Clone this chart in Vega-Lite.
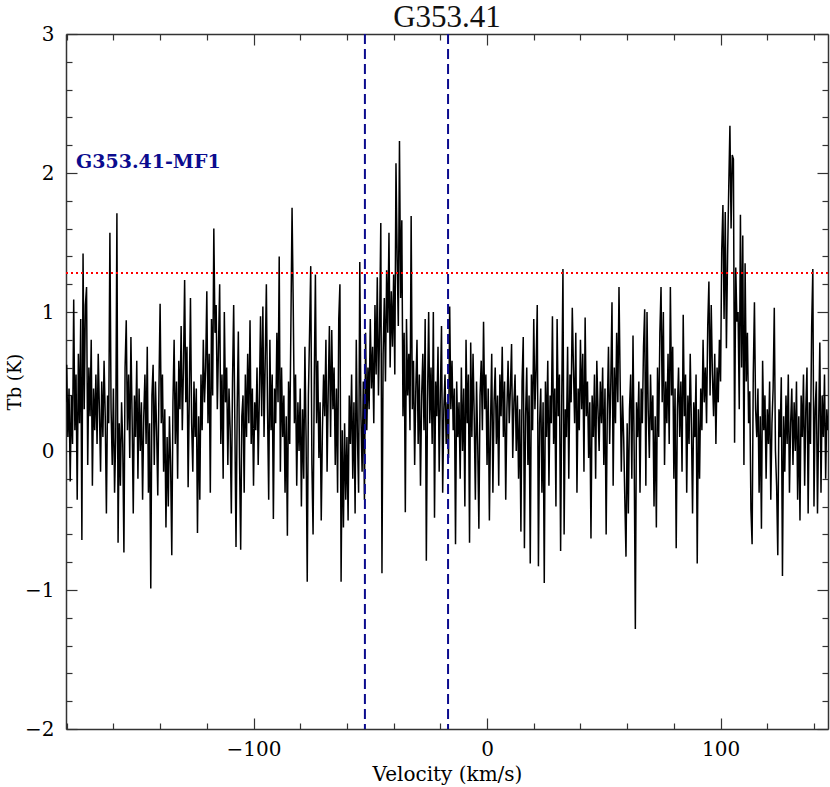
{
"$schema":"https://vega.github.io/schema/vega-lite/v6.json",
"autosize":{"type":"none"},
"width":762,"height":695,
"padding":{"left":66,"top":34,"right":2,"bottom":58},
"background":"white",
"title":{"text":"G353.41","fontSize":31,"font":"Liberation Serif","fontWeight":"normal","color":"#111","baseline":"alphabetic","offset":-3,"dy":31,"anchor":"middle"},
"config":{"view":{"stroke":null},
"axis":{"domainColor":"#333","domainWidth":1.5,"tickColor":"#333","tickWidth":1.2,"grid":false,"labelFont":"DejaVu Serif","labelFontSize":20,"labelColor":"#000","titleFont":"DejaVu Serif","titleFontSize":20,"titleFontWeight":"normal","titleColor":"#000","labelOverlap":false,"labelBound":false,"labelFlush":false}},
"datasets":{"spec":[
{"v":-180.5,"t":0.35},{"v":-180.0,"t":0.62},{"v":-179.5,"t":0.10},{"v":-179.0,"t":0.45},{"v":-178.5,"t":-0.22},{"v":-178.0,"t":0.40},{"v":-177.5,"t":0.05},{"v":-177.0,"t":1.09},{"v":-176.5,"t":0.15},{"v":-176.0,"t":0.55},
{"v":-175.5,"t":-0.35},{"v":-175.0,"t":0.70},{"v":-174.5,"t":0.20},{"v":-174.0,"t":0.95},{"v":-173.5,"t":-0.64},{"v":-173.0,"t":1.42},{"v":-172.5,"t":0.30},{"v":-172.0,"t":1.05},{"v":-171.5,"t":1.18},{"v":-171.0,"t":-0.10},
{"v":-170.5,"t":0.60},{"v":-170.0,"t":0.25},{"v":-169.5,"t":0.80},{"v":-169.0,"t":-0.25},{"v":-168.5,"t":0.45},{"v":-168.0,"t":0.15},{"v":-167.5,"t":0.55},{"v":-167.0,"t":0.05},{"v":-166.5,"t":0.70},{"v":-166.0,"t":0.30},
{"v":-165.5,"t":-0.15},{"v":-165.0,"t":0.50},{"v":-164.5,"t":0.10},{"v":-164.0,"t":0.65},{"v":-163.5,"t":0.25},{"v":-163.0,"t":-0.45},{"v":-162.5,"t":0.40},{"v":-162.0,"t":0.20},{"v":-161.5,"t":1.57},{"v":-161.0,"t":0.30},
{"v":-160.5,"t":-0.10},{"v":-160.0,"t":0.45},{"v":-159.5,"t":-0.30},{"v":-159.0,"t":0.10},{"v":-158.5,"t":1.71},{"v":-158.0,"t":-0.66},{"v":-157.5,"t":0.20},{"v":-157.0,"t":-0.25},{"v":-156.5,"t":0.35},{"v":-156.0,"t":0.05},
{"v":-155.5,"t":-0.73},{"v":-155.0,"t":0.60},{"v":-154.5,"t":0.94},{"v":-154.0,"t":0.15},{"v":-153.5,"t":0.55},{"v":-153.0,"t":-0.05},{"v":-152.5,"t":0.82},{"v":-152.0,"t":0.25},{"v":-151.5,"t":-0.45},{"v":-151.0,"t":0.40},
{"v":-150.5,"t":0.10},{"v":-150.0,"t":0.65},{"v":-149.5,"t":-0.20},{"v":-149.0,"t":0.45},{"v":-148.5,"t":0.00},{"v":-148.0,"t":0.35},{"v":-147.5,"t":-0.35},{"v":-147.0,"t":0.25},{"v":-146.5,"t":0.55},{"v":-146.0,"t":0.05},
{"v":-145.5,"t":0.75},{"v":-145.0,"t":-0.30},{"v":-144.5,"t":0.20},{"v":-144.0,"t":-0.99},{"v":-143.5,"t":0.40},{"v":-143.0,"t":0.62},{"v":-142.5,"t":-0.10},{"v":-142.0,"t":0.50},{"v":-141.5,"t":0.15},{"v":-141.0,"t":-0.32},
{"v":-140.5,"t":0.45},{"v":-140.0,"t":1.06},{"v":-139.5,"t":0.20},{"v":-139.0,"t":0.55},{"v":-138.5,"t":-0.15},{"v":-138.0,"t":0.30},{"v":-137.5,"t":-0.55},{"v":-137.0,"t":0.10},{"v":-136.5,"t":-0.40},{"v":-136.0,"t":0.25},
{"v":-135.5,"t":-0.10},{"v":-135.0,"t":-0.75},{"v":-134.5,"t":0.35},{"v":-134.0,"t":0.80},{"v":-133.5,"t":0.05},{"v":-133.0,"t":0.50},{"v":-132.5,"t":-0.20},{"v":-132.0,"t":0.65},{"v":-131.5,"t":0.30},{"v":-131.0,"t":0.90},
{"v":-130.5,"t":0.15},{"v":-130.0,"t":0.60},{"v":-129.5,"t":1.23},{"v":-129.0,"t":0.35},{"v":-128.5,"t":0.75},{"v":-128.0,"t":-0.26},{"v":-127.5,"t":0.40},{"v":-127.0,"t":1.10},{"v":-126.5,"t":0.20},{"v":-126.0,"t":-0.15},
{"v":-125.5,"t":0.50},{"v":-125.0,"t":0.10},{"v":-124.5,"t":0.45},{"v":-124.0,"t":-0.59},{"v":-123.5,"t":0.25},{"v":-123.0,"t":-0.35},{"v":-122.5,"t":0.55},{"v":-122.0,"t":0.15},{"v":-121.5,"t":0.80},{"v":-121.0,"t":0.35},
{"v":-120.5,"t":0.60},{"v":-120.0,"t":1.15},{"v":-119.5,"t":0.20},{"v":-119.0,"t":0.70},{"v":-118.5,"t":-0.30},{"v":-118.0,"t":0.95},{"v":-117.5,"t":0.40},{"v":-117.0,"t":1.60},{"v":-116.5,"t":0.85},{"v":-116.0,"t":1.05},
{"v":-115.5,"t":0.30},{"v":-115.0,"t":0.75},{"v":-114.5,"t":1.20},{"v":-114.0,"t":0.05},{"v":-113.5,"t":0.55},{"v":-113.0,"t":-0.20},{"v":-112.5,"t":1.00},{"v":-112.0,"t":0.35},{"v":-111.5,"t":0.60},{"v":-111.0,"t":-0.10},
{"v":-110.5,"t":0.45},{"v":-110.0,"t":0.15},{"v":-109.5,"t":-0.45},{"v":-109.0,"t":0.50},{"v":-108.5,"t":1.05},{"v":-108.0,"t":0.20},{"v":-107.5,"t":-0.69},{"v":-107.0,"t":0.30},{"v":-106.5,"t":0.86},{"v":-106.0,"t":-0.05},
{"v":-105.5,"t":-0.71},{"v":-105.0,"t":0.25},{"v":-104.5,"t":0.40},{"v":-104.0,"t":-0.30},{"v":-103.5,"t":0.55},{"v":-103.0,"t":0.10},{"v":-102.5,"t":0.70},{"v":-102.0,"t":0.20},{"v":-101.5,"t":0.94},{"v":-101.0,"t":0.05},
{"v":-100.5,"t":0.45},{"v":-100.0,"t":-0.25},{"v":-99.5,"t":0.35},{"v":-99.0,"t":0.15},{"v":-98.5,"t":0.60},{"v":-98.0,"t":-0.10},{"v":-97.5,"t":0.40},{"v":-97.0,"t":0.97},{"v":-96.5,"t":0.25},{"v":-96.0,"t":1.04},
{"v":-95.5,"t":0.10},{"v":-95.0,"t":0.65},{"v":-94.5,"t":1.20},{"v":-94.0,"t":0.30},{"v":-93.5,"t":-0.35},{"v":-93.0,"t":0.80},{"v":-92.5,"t":0.15},{"v":-92.0,"t":0.55},{"v":-91.5,"t":-0.49},{"v":-91.0,"t":0.45},
{"v":-90.5,"t":0.20},{"v":-90.0,"t":0.85},{"v":-89.5,"t":0.35},{"v":-89.0,"t":1.40},{"v":-88.5,"t":-0.15},{"v":-88.0,"t":0.60},{"v":-87.5,"t":0.10},{"v":-87.0,"t":0.40},{"v":-86.5,"t":-0.30},{"v":-86.0,"t":0.25},
{"v":-85.5,"t":-0.61},{"v":-85.0,"t":0.50},{"v":-84.5,"t":0.05},{"v":-84.0,"t":0.90},{"v":-83.5,"t":1.75},{"v":-83.0,"t":1.06},{"v":-82.5,"t":0.20},{"v":-82.0,"t":0.55},{"v":-81.5,"t":-0.25},{"v":-81.0,"t":0.35},
{"v":-80.5,"t":0.00},{"v":-80.0,"t":0.45},{"v":-79.5,"t":-0.40},{"v":-79.0,"t":0.30},{"v":-78.5,"t":-0.20},{"v":-78.0,"t":0.75},{"v":-77.5,"t":0.10},{"v":-77.0,"t":-0.94},{"v":-76.5,"t":0.40},{"v":-76.0,"t":0.85},
{"v":-75.5,"t":1.33},{"v":-75.0,"t":-0.10},{"v":-74.5,"t":-0.60},{"v":-74.0,"t":0.50},{"v":-73.5,"t":1.27},{"v":-73.0,"t":0.20},{"v":-72.5,"t":0.65},{"v":-72.0,"t":-0.05},{"v":-71.5,"t":0.35},{"v":-71.0,"t":-0.50},
{"v":-70.5,"t":0.15},{"v":-70.0,"t":0.55},{"v":-69.5,"t":0.25},{"v":-69.0,"t":0.80},{"v":-68.5,"t":-0.15},{"v":-68.0,"t":0.45},{"v":-67.5,"t":0.90},{"v":-67.0,"t":0.10},{"v":-66.5,"t":0.87},{"v":-66.0,"t":0.30},
{"v":-65.5,"t":0.60},{"v":-65.0,"t":-0.10},{"v":-64.5,"t":0.45},{"v":-64.0,"t":-0.30},{"v":-63.5,"t":0.95},{"v":-63.0,"t":1.20},{"v":-62.5,"t":-0.94},{"v":-62.0,"t":0.15},{"v":-61.5,"t":-0.55},{"v":-61.0,"t":0.20},
{"v":-60.5,"t":-0.35},{"v":-60.0,"t":0.10},{"v":-59.5,"t":-0.50},{"v":-59.0,"t":0.40},{"v":-58.5,"t":0.05},{"v":-58.0,"t":0.55},{"v":-57.5,"t":-0.20},{"v":-57.0,"t":0.35},{"v":-56.5,"t":-0.45},{"v":-56.0,"t":0.80},
{"v":-55.5,"t":0.10},{"v":-55.0,"t":-0.30},{"v":-54.5,"t":1.36},{"v":-54.0,"t":0.25},{"v":-53.5,"t":-0.15},{"v":-53.0,"t":0.50},{"v":-52.5,"t":-0.35},{"v":-52.0,"t":0.85},{"v":-51.5,"t":0.15},{"v":-51.0,"t":0.60},
{"v":-50.5,"t":0.30},{"v":-50.0,"t":0.95},{"v":-49.5,"t":0.45},{"v":-49.0,"t":0.75},{"v":-48.5,"t":0.20},{"v":-48.0,"t":1.05},{"v":-47.5,"t":0.55},{"v":-47.0,"t":1.25},{"v":-46.5,"t":0.40},{"v":-46.0,"t":0.90},
{"v":-45.5,"t":1.64},{"v":-45.0,"t":-0.88},{"v":-44.5,"t":0.70},{"v":-44.0,"t":1.10},{"v":-43.5,"t":0.50},{"v":-43.0,"t":1.30},{"v":-42.5,"t":0.85},{"v":-42.0,"t":1.57},{"v":-41.5,"t":0.60},{"v":-41.0,"t":1.15},
{"v":-40.5,"t":0.75},{"v":-40.0,"t":1.27},{"v":-39.5,"t":0.55},{"v":-39.0,"t":2.07},{"v":-38.5,"t":1.40},{"v":-38.0,"t":0.90},{"v":-37.5,"t":2.23},{"v":-37.0,"t":1.10},{"v":-36.5,"t":1.66},{"v":-36.0,"t":0.25},
{"v":-35.5,"t":0.85},{"v":-35.0,"t":-0.44},{"v":-34.5,"t":0.95},{"v":-34.0,"t":0.40},{"v":-33.5,"t":0.70},{"v":-33.0,"t":0.15},{"v":-32.5,"t":1.69},{"v":-32.0,"t":0.30},{"v":-31.5,"t":0.65},{"v":-31.0,"t":-0.10},
{"v":-30.5,"t":0.45},{"v":-30.0,"t":0.80},{"v":-29.5,"t":0.05},{"v":-29.0,"t":0.55},{"v":-28.5,"t":-0.25},{"v":-28.0,"t":0.40},{"v":-27.5,"t":0.70},{"v":-27.0,"t":0.15},{"v":-26.5,"t":0.95},{"v":-26.0,"t":-0.79},
{"v":-25.5,"t":0.35},{"v":-25.0,"t":1.00},{"v":-24.5,"t":0.20},{"v":-24.0,"t":0.60},{"v":-23.5,"t":0.05},{"v":-23.0,"t":1.00},{"v":-22.5,"t":-0.48},{"v":-22.0,"t":0.50},{"v":-21.5,"t":0.25},{"v":-21.0,"t":0.75},
{"v":-20.5,"t":-0.15},{"v":-20.0,"t":0.40},{"v":-19.5,"t":0.90},{"v":-19.0,"t":-0.30},{"v":-18.5,"t":0.30},{"v":-18.0,"t":0.55},{"v":-17.5,"t":0.05},{"v":-17.0,"t":0.35},{"v":-16.5,"t":-0.05},{"v":-16.0,"t":1.04},
{"v":-15.5,"t":0.30},{"v":-15.0,"t":0.65},{"v":-14.5,"t":0.15},{"v":-14.0,"t":0.45},{"v":-13.5,"t":-0.67},{"v":-13.0,"t":0.50},{"v":-12.5,"t":0.10},{"v":-12.0,"t":0.35},{"v":-11.5,"t":-0.20},{"v":-11.0,"t":0.60},
{"v":-10.5,"t":0.00},{"v":-10.0,"t":0.45},{"v":-9.5,"t":-0.40},{"v":-9.0,"t":0.80},{"v":-8.5,"t":0.20},{"v":-8.0,"t":0.55},{"v":-7.5,"t":-0.66},{"v":-7.0,"t":0.78},{"v":-6.5,"t":0.10},{"v":-6.0,"t":0.70},
{"v":-5.5,"t":0.25},{"v":-5.0,"t":-0.35},{"v":-4.5,"t":0.50},{"v":-4.0,"t":0.05},{"v":-3.5,"t":-0.56},{"v":-3.0,"t":0.40},{"v":-2.5,"t":0.65},{"v":-2.0,"t":0.15},{"v":-1.5,"t":0.93},{"v":-1.0,"t":0.30},
{"v":-0.5,"t":0.55},{"v":0.0,"t":-0.10},{"v":0.5,"t":0.45},{"v":1.0,"t":-0.50},{"v":1.5,"t":0.20},{"v":2.0,"t":0.70},{"v":2.5,"t":-0.30},{"v":3.0,"t":0.35},{"v":3.5,"t":0.60},{"v":4.0,"t":0.05},
{"v":4.5,"t":0.40},{"v":5.0,"t":-0.25},{"v":5.5,"t":0.55},{"v":6.0,"t":0.25},{"v":6.5,"t":0.75},{"v":7.0,"t":0.10},{"v":7.5,"t":0.50},{"v":8.0,"t":-0.35},{"v":8.5,"t":0.30},{"v":9.0,"t":0.65},
{"v":9.5,"t":0.20},{"v":10.0,"t":0.45},{"v":10.5,"t":0.77},{"v":11.0,"t":-0.05},{"v":11.5,"t":0.35},{"v":12.0,"t":0.55},{"v":12.5,"t":0.00},{"v":13.0,"t":0.40},{"v":13.5,"t":-0.20},{"v":14.0,"t":0.30},
{"v":14.5,"t":-0.58},{"v":15.0,"t":0.50},{"v":15.5,"t":0.82},{"v":16.0,"t":-0.70},{"v":16.5,"t":0.25},{"v":17.0,"t":0.60},{"v":17.5,"t":-0.10},{"v":18.0,"t":0.40},{"v":18.5,"t":-0.81},{"v":19.0,"t":0.55},
{"v":19.5,"t":0.15},{"v":20.0,"t":0.95},{"v":20.5,"t":0.30},{"v":21.0,"t":0.60},{"v":21.5,"t":1.05},{"v":22.0,"t":-0.83},{"v":22.5,"t":0.20},{"v":23.0,"t":0.45},{"v":23.5,"t":-0.30},{"v":24.0,"t":0.35},
{"v":24.5,"t":-0.95},{"v":25.0,"t":0.50},{"v":25.5,"t":0.10},{"v":26.0,"t":0.65},{"v":26.5,"t":-0.25},{"v":27.0,"t":0.40},{"v":27.5,"t":0.20},{"v":28.0,"t":0.97},{"v":28.5,"t":0.05},{"v":29.0,"t":0.45},
{"v":29.5,"t":-0.40},{"v":30.0,"t":0.95},{"v":30.5,"t":0.25},{"v":31.0,"t":0.55},{"v":31.5,"t":-0.72},{"v":32.0,"t":0.40},{"v":32.5,"t":1.31},{"v":33.0,"t":-0.60},{"v":33.5,"t":0.30},{"v":34.0,"t":0.10},
{"v":34.5,"t":0.75},{"v":35.0,"t":-0.20},{"v":35.5,"t":0.55},{"v":36.0,"t":0.35},{"v":36.5,"t":1.03},{"v":37.0,"t":0.60},{"v":37.5,"t":0.20},{"v":38.0,"t":0.85},{"v":38.5,"t":-0.30},{"v":39.0,"t":0.45},
{"v":39.5,"t":0.15},{"v":40.0,"t":0.80},{"v":40.5,"t":0.30},{"v":41.0,"t":0.70},{"v":41.5,"t":-0.15},{"v":42.0,"t":0.96},{"v":42.5,"t":0.25},{"v":43.0,"t":0.50},{"v":43.5,"t":-0.05},{"v":44.0,"t":0.35},
{"v":44.5,"t":-0.63},{"v":45.0,"t":0.40},{"v":45.5,"t":0.10},{"v":46.0,"t":0.55},{"v":46.5,"t":-0.20},{"v":47.0,"t":0.65},{"v":47.5,"t":0.30},{"v":48.0,"t":0.00},{"v":48.5,"t":0.50},{"v":49.0,"t":0.20},
{"v":49.5,"t":0.60},{"v":50.0,"t":-0.10},{"v":50.5,"t":0.45},{"v":51.0,"t":-0.60},{"v":51.5,"t":0.30},{"v":52.0,"t":0.75},{"v":52.5,"t":0.05},{"v":53.0,"t":0.50},{"v":53.5,"t":1.07},{"v":54.0,"t":-0.25},
{"v":54.5,"t":0.60},{"v":55.0,"t":0.20},{"v":55.5,"t":0.85},{"v":56.0,"t":0.35},{"v":56.5,"t":1.18},{"v":57.0,"t":0.50},{"v":57.5,"t":-0.15},{"v":58.0,"t":0.40},{"v":58.5,"t":0.10},{"v":59.0,"t":-0.35},
{"v":59.5,"t":-0.76},{"v":60.0,"t":0.20},{"v":60.5,"t":-0.45},{"v":61.0,"t":0.30},{"v":61.5,"t":0.55},{"v":62.0,"t":-0.20},{"v":62.5,"t":0.83},{"v":63.0,"t":0.00},{"v":63.5,"t":-1.28},{"v":64.0,"t":0.35},
{"v":64.5,"t":0.10},{"v":65.0,"t":0.50},{"v":65.5,"t":-0.30},{"v":66.0,"t":0.45},{"v":66.5,"t":0.20},{"v":67.0,"t":0.75},{"v":67.5,"t":1.02},{"v":68.0,"t":-0.25},{"v":68.5,"t":1.00},{"v":69.0,"t":0.30},
{"v":69.5,"t":-0.05},{"v":70.0,"t":0.55},{"v":70.5,"t":0.15},{"v":71.0,"t":0.40},{"v":71.5,"t":-0.40},{"v":72.0,"t":0.25},{"v":72.5,"t":-0.55},{"v":73.0,"t":0.60},{"v":73.5,"t":0.10},{"v":74.0,"t":0.85},
{"v":74.5,"t":1.18},{"v":75.0,"t":0.35},{"v":75.5,"t":1.00},{"v":76.0,"t":-0.10},{"v":76.5,"t":0.50},{"v":77.0,"t":0.20},{"v":77.5,"t":0.70},{"v":78.0,"t":0.05},{"v":78.5,"t":1.18},{"v":79.0,"t":0.40},
{"v":79.5,"t":0.75},{"v":80.0,"t":-0.20},{"v":80.5,"t":0.45},{"v":81.0,"t":-0.70},{"v":81.5,"t":0.30},{"v":82.0,"t":0.60},{"v":82.5,"t":0.10},{"v":83.0,"t":0.50},{"v":83.5,"t":-0.15},{"v":84.0,"t":0.98},
{"v":84.5,"t":0.25},{"v":85.0,"t":0.55},{"v":85.5,"t":-0.30},{"v":86.0,"t":0.40},{"v":86.5,"t":0.05},{"v":87.0,"t":0.70},{"v":87.5,"t":0.20},{"v":88.0,"t":-0.45},{"v":88.5,"t":0.35},{"v":89.0,"t":0.10},
{"v":89.5,"t":0.55},{"v":90.0,"t":-0.81},{"v":90.5,"t":0.30},{"v":91.0,"t":-0.20},{"v":91.5,"t":0.45},{"v":92.0,"t":0.15},{"v":92.5,"t":0.80},{"v":93.0,"t":0.35},{"v":93.5,"t":0.60},{"v":94.0,"t":0.20},
{"v":94.5,"t":0.90},{"v":95.0,"t":1.22},{"v":95.5,"t":0.40},{"v":96.0,"t":1.05},{"v":96.5,"t":0.55},{"v":97.0,"t":0.25},{"v":97.5,"t":0.70},{"v":98.0,"t":0.05},{"v":98.5,"t":0.60},{"v":99.0,"t":0.35},
{"v":99.5,"t":0.80},{"v":100.0,"t":0.50},{"v":100.5,"t":1.45},{"v":101.0,"t":1.77},{"v":101.5,"t":0.95},{"v":102.0,"t":1.72},{"v":102.5,"t":0.74},{"v":103.0,"t":1.40},{"v":103.5,"t":1.90},{"v":104.0,"t":2.34},
{"v":104.5,"t":1.60},{"v":105.0,"t":2.13},{"v":105.5,"t":2.10},{"v":106.0,"t":0.06},{"v":106.5,"t":1.32},{"v":107.0,"t":0.93},{"v":107.5,"t":1.00},{"v":108.0,"t":0.30},{"v":108.5,"t":1.70},{"v":109.0,"t":0.60},
{"v":109.5,"t":1.55},{"v":110.0,"t":-0.10},{"v":110.5,"t":1.35},{"v":111.0,"t":0.50},{"v":111.5,"t":0.85},{"v":112.0,"t":0.20},{"v":112.5,"t":0.43},{"v":113.0,"t":-0.42},{"v":113.5,"t":-0.67},{"v":114.0,"t":0.55},
{"v":114.5,"t":1.07},{"v":115.0,"t":0.30},{"v":115.5,"t":0.10},{"v":116.0,"t":0.45},{"v":116.5,"t":-0.30},{"v":117.0,"t":0.25},{"v":117.5,"t":-0.56},{"v":118.0,"t":0.65},{"v":118.5,"t":0.15},{"v":119.0,"t":0.40},
{"v":119.5,"t":-0.20},{"v":120.0,"t":0.30},{"v":120.5,"t":0.05},{"v":121.0,"t":0.50},{"v":121.5,"t":-0.35},{"v":122.0,"t":0.20},{"v":122.5,"t":0.45},{"v":123.0,"t":1.03},{"v":123.5,"t":0.00},{"v":124.0,"t":-0.25},
{"v":124.5,"t":-0.75},{"v":125.0,"t":0.30},{"v":125.5,"t":0.10},{"v":126.0,"t":0.53},{"v":126.5,"t":-0.90},{"v":127.0,"t":0.25},{"v":127.5,"t":-0.15},{"v":128.0,"t":0.40},{"v":128.5,"t":0.05},{"v":129.0,"t":0.55},
{"v":129.5,"t":-0.30},{"v":130.0,"t":0.20},{"v":130.5,"t":0.45},{"v":131.0,"t":-0.10},{"v":131.5,"t":0.35},{"v":132.0,"t":0.00},{"v":132.5,"t":0.50},{"v":133.0,"t":-0.35},{"v":133.5,"t":0.25},{"v":134.0,"t":-0.50},
{"v":134.5,"t":0.40},{"v":135.0,"t":0.10},{"v":135.5,"t":0.55},{"v":136.0,"t":-0.25},{"v":136.5,"t":0.30},{"v":137.0,"t":0.60},{"v":137.5,"t":-0.45},{"v":138.0,"t":0.35},{"v":138.5,"t":0.05},{"v":139.0,"t":0.89},
{"v":139.5,"t":1.31},{"v":140.0,"t":-0.40},{"v":140.5,"t":0.30},{"v":141.0,"t":0.50},{"v":141.5,"t":-0.45},{"v":142.0,"t":0.20},{"v":142.5,"t":0.78},{"v":143.0,"t":-0.30},{"v":143.5,"t":0.40},{"v":144.0,"t":0.10},
{"v":144.5,"t":0.55},{"v":145.0,"t":-0.20},{"v":145.5,"t":0.30},{"v":146.0,"t":0.15}
]},
"layer":[
{"data":{"name":"spec"},
 "mark":{"type":"line","color":"#000","strokeWidth":1.5,"clip":true,"interpolate":"linear"},
 "encoding":{
  "x":{"field":"v","type":"quantitative","scale":{"domain":[-180.3,146],"nice":false,"zero":false},
   "axis":{"orient":"bottom","values":[-180,-160,-140,-120,-100,-80,-60,-40,-20,0,20,40,60,80,100,120,140],
    "tickSize":{"condition":{"test":"datum.value % 100 === 0","value":-11},"value":-6},
    "labelExpr":"datum.value % 100 === 0 ? datum.label : ''","format":"d","labelPadding":21,
    "title":"Velocity (km/s)","titlePadding":0}},
  "y":{"field":"t","type":"quantitative","scale":{"domain":[-2,3],"nice":false,"zero":false},
   "axis":{"orient":"left","values":[-2,-1.8,-1.6,-1.4,-1.2,-1,-0.8,-0.6,-0.4,-0.2,0,0.2,0.4,0.6,0.8,1,1.2,1.4,1.6,1.8,2,2.2,2.4,2.6,2.8,3],
    "tickSize":{"condition":{"test":"abs(datum.value - round(datum.value)) < 0.01","value":-11},"value":-6},
    "labelExpr":"abs(datum.value - round(datum.value)) < 0.01 ? format(datum.value, 'd') : ''","labelPadding":23,
    "title":"Tb (K)","titleFontSize":18,"titlePadding":0}}
 }},
{"data":{"values":[{"v":-52.3},{"v":-16.7}]},
 "mark":{"type":"rule","color":"#0b0b8e","strokeWidth":2,"strokeDash":[10,5]},
 "encoding":{"x":{"field":"v","type":"quantitative","scale":{"domain":[-180.3,146],"nice":false,"zero":false},
   "axis":{"orient":"top","values":[-180,-160,-140,-120,-100,-80,-60,-40,-20,0,20,40,60,80,100,120,140],
    "tickSize":{"condition":{"test":"datum.value % 100 === 0","value":-11},"value":-6},
    "labels":false,"title":null}}}},
{"data":{"values":[{"t":1.28}]},
 "mark":{"type":"rule","color":"#ff0000","strokeWidth":2,"strokeDash":[2,3]},
 "encoding":{"y":{"field":"t","type":"quantitative","scale":{"domain":[-2,3],"nice":false,"zero":false},
   "axis":{"orient":"right","values":[-2,-1.8,-1.6,-1.4,-1.2,-1,-0.8,-0.6,-0.4,-0.2,0,0.2,0.4,0.6,0.8,1,1.2,1.4,1.6,1.8,2,2.2,2.4,2.6,2.8,3],
    "tickSize":{"condition":{"test":"abs(datum.value - round(datum.value)) < 0.01","value":-11},"value":-6},
    "labels":false,"title":null}}}},
{"data":{"values":[{"v":-176,"t":2.08,"label":"G353.41-MF1"}]},
 "mark":{"type":"text","color":"#0b0b8e","font":"DejaVu Serif","fontWeight":"bold","fontSize":19,"align":"left","baseline":"middle"},
 "encoding":{"x":{"field":"v","type":"quantitative","axis":null},"y":{"field":"t","type":"quantitative","axis":null},"text":{"field":"label"}}}
],
"resolve":{"axis":{"x":"independent","y":"independent"}}
}
